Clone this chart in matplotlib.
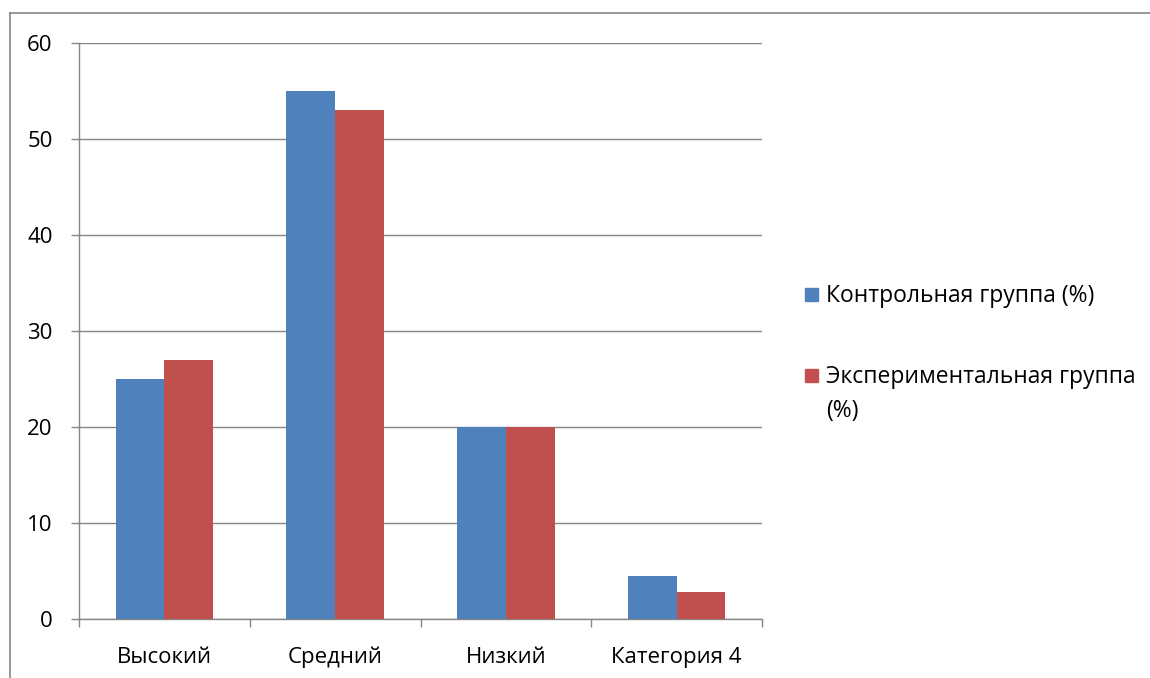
import matplotlib.pyplot as plt
import numpy as np
from matplotlib.lines import Line2D
from matplotlib.patches import Rectangle

plt.rcParams["font.family"] = ["Open Sans", "DejaVu Sans"]

categories = ["Высокий", "Средний", "Низкий", "Категория 4"]
control = [25, 55, 20, 4.5]
experimental = [27, 53, 20, 2.8]
series_names = ["Контрольная группа (%)", "Экспериментальная группа\n(%)"]
colors = ["#4f81bd", "#c0504d"]
yticks = [0, 10, 20, 30, 40, 50, 60]

FS = 16
W, H = 1150, 678
fig = plt.figure(figsize=(W / 100, H / 100), dpi=100)
ax = fig.add_axes([79 / W, 1 - 619 / H, (762 - 79) / W, (619 - 43) / H])

x = np.arange(len(categories))
width = 1 / 3.5
ax.bar(x - width / 2, control, width, color=colors[0], zorder=3)
ax.bar(x + width / 2, experimental, width, color=colors[1], zorder=3)

ax.set_xlim(-0.5, len(categories) - 0.5)
ax.set_ylim(0, 60)
ax.set_yticks(yticks)
ax.yaxis.grid(True, color="#868686", linewidth=1)
ax.set_axisbelow(True)

# category ticks sit on the boundaries, labels in the middle
ax.set_xticks(np.arange(len(categories) + 1) - 0.5)
ax.set_xticklabels([])
ax.set_xticks(x, minor=True)
ax.set_xticklabels(categories, minor=True)
ax.tick_params(axis="both", which="both", labelsize=FS)
ax.tick_params(axis="x", which="minor", length=0, pad=31.5)
ax.tick_params(axis="x", which="major", length=6, color="#868686", width=1)
ax.tick_params(axis="y", length=6, color="#868686", width=1, pad=13)
# keep all category names on one baseline
for lab in ax.get_xticklabels(minor=True):
    lab.set_verticalalignment("baseline")

for side in ["top", "right"]:
    ax.spines[side].set_visible(False)
for side in ["left", "bottom"]:
    ax.spines[side].set_color("#868686")
    ax.spines[side].set_linewidth(1)

# legend drawn by hand: square level with the first line, wrapped lines below
legend_baselines = [302, 383]
line_step = 34
for name, color, base in zip(series_names, colors, legend_baselines):
    fig.patches.append(Rectangle((805 / W, 1 - (base - 1) / H), 13 / W, 13 / H,
                                 transform=fig.transFigure, color=color))
    for i, line in enumerate(name.split("\n")):
        fig.text(826 / W, 1 - (base + i * line_step) / H, line,
                 fontsize=FS + 0.5, va="baseline")

# chart area border
fig.add_artist(Line2D([10 / W, 1], [1 - 13 / H, 1 - 13 / H], color="#868686",
                      linewidth=1.2, transform=fig.transFigure))
fig.add_artist(Line2D([10 / W, 10 / W], [0, 1 - 13 / H], color="#868686",
                      linewidth=1.2, transform=fig.transFigure))

fig.savefig("out.png", dpi=100)
